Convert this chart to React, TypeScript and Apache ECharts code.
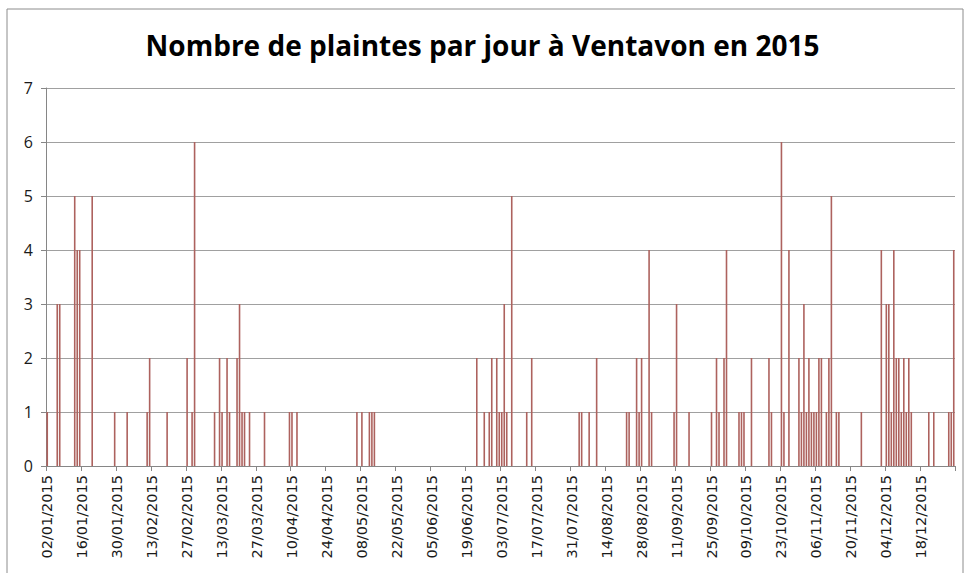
import React, { useEffect, useRef } from "react";
import * as echarts from "echarts";

const TITLE = "Nombre de plaintes par jour à Ventavon en 2015";
const START_DATE = "2015-01-02";
const DAY_COUNT = 364;
const Y_TICKS = [0, 1, 2, 3, 4, 5, 6, 7];

// Complaints per day, 02/01/2015 .. 31/12/2015, 14 days per row
const complaints: number[] = [
  1, 0, 0, 0, 3, 3, 0, 0, 0, 0, 0, 5, 4, 4,
  0, 0, 0, 0, 5, 0, 0, 0, 0, 0, 0, 0, 0, 1,
  0, 0, 0, 0, 1, 0, 0, 0, 0, 0, 0, 0, 1, 2,
  0, 0, 0, 0, 0, 0, 1, 0, 0, 0, 0, 0, 0, 0,
  2, 0, 1, 6, 0, 0, 0, 0, 0, 0, 0, 1, 0, 2,
  1, 0, 2, 1, 0, 0, 2, 3, 1, 1, 0, 1, 0, 0,
  0, 0, 0, 1, 0, 0, 0, 0, 0, 0, 0, 0, 0, 1,
  1, 0, 1, 0, 0, 0, 0, 0, 0, 0, 0, 0, 0, 0,
  0, 0, 0, 0, 0, 0, 0, 0, 0, 0, 0, 0, 1, 0,
  1, 0, 0, 1, 1, 1, 0, 0, 0, 0, 0, 0, 0, 0,
  0, 0, 0, 0, 0, 0, 0, 0, 0, 0, 0, 0, 0, 0,
  0, 0, 0, 0, 0, 0, 0, 0, 0, 0, 0, 0, 0, 0,
  0, 0, 0, 0, 2, 0, 0, 1, 0, 1, 2, 0, 2, 1,
  1, 3, 1, 0, 5, 0, 0, 0, 0, 0, 1, 0, 2, 0,
  0, 0, 0, 0, 0, 0, 0, 0, 0, 0, 0, 0, 0, 0,
  0, 0, 0, 1, 1, 0, 0, 1, 0, 0, 2, 0, 0, 0,
  0, 0, 0, 0, 0, 0, 0, 0, 1, 1, 0, 0, 2, 1,
  2, 0, 0, 4, 1, 0, 0, 0, 0, 0, 0, 0, 0, 1,
  3, 0, 0, 0, 0, 1, 0, 0, 0, 0, 0, 0, 0, 0,
  1, 0, 2, 1, 0, 2, 4, 0, 0, 0, 0, 1, 1, 1,
  0, 0, 2, 0, 0, 0, 0, 0, 0, 2, 1, 0, 0, 0,
  6, 1, 0, 4, 0, 0, 0, 2, 1, 3, 1, 2, 1, 1,
  1, 2, 2, 0, 1, 2, 5, 0, 1, 1, 0, 0, 0, 0,
  0, 0, 0, 0, 1, 0, 0, 0, 0, 0, 0, 0, 4, 0,
  3, 3, 1, 4, 2, 2, 1, 2, 1, 2, 1, 0, 0, 0,
  0, 0, 0, 1, 0, 1, 0, 0, 0, 0, 0, 1, 1, 4,
];

function buildDates(): string[] {
  const out: string[] = [];
  const d = new Date(START_DATE + "T12:00:00Z");
  for (let i = 0; i < DAY_COUNT; i++) {
    const dd = String(d.getUTCDate()).padStart(2, "0");
    const mm = String(d.getUTCMonth() + 1).padStart(2, "0");
    out.push(`${dd}/${mm}/${d.getUTCFullYear()}`);
    d.setUTCDate(d.getUTCDate() + 1);
  }
  return out;
}

export default function App() {
  const ref = useRef<HTMLDivElement>(null);
  useEffect(() => {
    if (!ref.current) return;
    const chart = echarts.init(ref.current, null, { renderer: "svg" });
    const dates = buildDates();
    chart.setOption({
      animation: false,
      backgroundColor: "#ffffff",
      title: {
        text: TITLE,
        left: "center",
        top: 26,
        textStyle: {
          fontFamily: "Open Sans",
          fontWeight: "bold",
          fontSize: 28,
          color: "#000000",
        },
      },
      graphic: [
        {
          type: "rect",
          shape: { x: 7, y: 9, width: 956, height: 600 },
          style: { fill: "none", stroke: "#8c8c8c", lineWidth: 1 },
          silent: true,
        },
      ],
      grid: { left: 46, right: 10, top: 88, bottom: 107, containLabel: false },
      xAxis: {
        type: "category",
        data: dates,
        boundaryGap: true,
        axisLine: { show: true, lineStyle: { color: "#868686", width: 1 } },
        axisTick: {
          show: true,
          interval: 13,
          length: 5,
          lineStyle: { color: "#868686" },
        },
        axisLabel: {
          interval: 13,
          rotate: 90,
          margin: 9,
          fontFamily: "DejaVu Sans",
          fontSize: 14.5,
          color: "#1a1a1a",
        },
        splitLine: { show: false },
      },
      yAxis: {
        type: "value",
        min: Y_TICKS[0],
        max: Y_TICKS[Y_TICKS.length - 1],
        interval: 1,
        axisLine: { show: true, lineStyle: { color: "#868686", width: 1 } },
        axisTick: { show: true, length: 5, lineStyle: { color: "#868686" } },
        axisLabel: {
          margin: 13,
          fontFamily: "Open Sans",
          fontSize: 16,
          color: "#1a1a1a",
        },
        splitLine: { show: true, lineStyle: { color: "#a0a0a0", width: 1 } },
      },
      series: [
        {
          type: "bar",
          data: complaints,
          barWidth: 1.6,
          itemStyle: { color: "#ad625e" },
        },
      ],
    });
    return () => chart.dispose();
  }, []);
  return (
    <div
      ref={ref}
      style={{ position: "fixed", left: 0, top: 0, width: 965, height: 573 }}
    />
  );
}
